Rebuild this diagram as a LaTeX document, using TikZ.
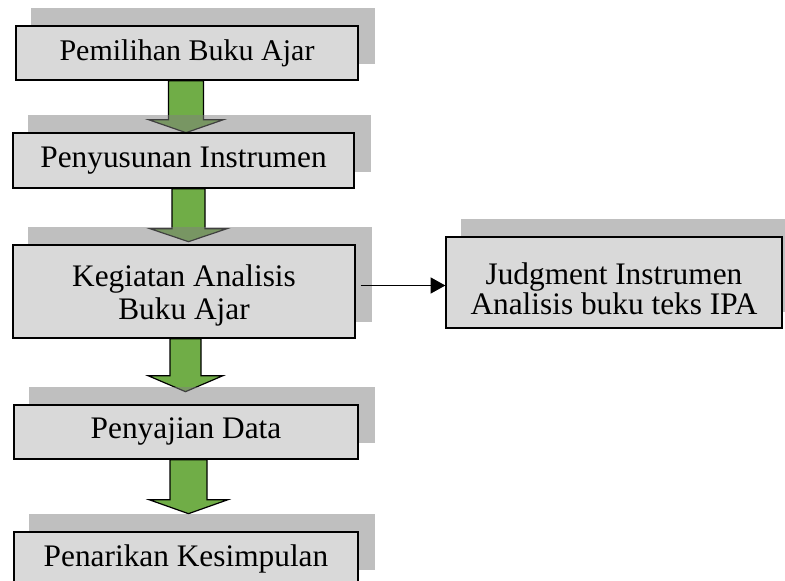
\documentclass[tikz,border=0pt]{standalone}
\usepackage{fontspec}
\setmainfont{Liberation Serif}
\usetikzlibrary{calc,arrows.meta}
\definecolor{boxfill}{HTML}{D9D9D9}
\definecolor{arrgreen}{HTML}{70AD47}
\pgfdeclarelayer{bg}
\pgfdeclarelayer{mid}
\pgfsetlayers{bg,mid,main}
\tikzset{
  stepbox/.style={draw=black, line width=1pt, fill=boxfill, rectangle, inner sep=0pt,
    align=center, font=\fontsize{23.5}{24}\selectfont},
  boxtext/.style={align=center, inner sep=0pt},
  shadowfill/.style={fill=black!50, fill opacity=0.5},
  greenarrow/.style={draw=black, line width=0.9pt, fill=arrgreen, line join=miter},
  linkarrow/.style={draw=black, line width=0.8pt, -{Triangle[length=11pt,width=12pt]}}
}
\begin{document}
\begin{tikzpicture}[x=0.75pt,y=-0.75pt]
\useasboundingbox (0,0) rectangle (785,581);
\clip (0,0) rectangle (785,581);
% boxes
\node[stepbox, minimum width=0.75*342pt, minimum height=0.75*54pt, font=\fontsize{22.5}{24}\selectfont] (b1) at (187,53) {Pemilihan Buku Ajar};
\node[stepbox, minimum width=0.75*341pt, minimum height=0.75*55pt] (b2) at (183.5,160.5) {Penyusunan Instrumen};
\node[stepbox, minimum width=0.75*342pt, minimum height=0.75*93pt,
  label={[name=b3t, boxtext, yshift=-3pt, font=\fontsize{23.5}{24.5}\selectfont]center:{Kegiatan Analisis\\Buku Ajar}}] (b3) at (184,291.5) {};
\node[stepbox, minimum width=0.75*344pt, minimum height=0.75*54pt] (b4) at (186,432) {Penyajian Data};
\node[stepbox, minimum width=0.75*344pt, minimum height=0.75*54pt] (b5) at (186,559) {Penarikan Kesimpulan};
\node[stepbox, minimum width=0.75*336pt, minimum height=0.75*91pt,
  label={[name=jdt, boxtext, yshift=-4.5pt, font=\fontsize{23.5}{22.5}\selectfont]center:{Judgment Instrumen\\Analisis buku teks IPA}}] (jd) at (614,282.5) {};
% shadows
\begin{pgfonlayer}{mid}
\foreach \n in {b1,b2,b3,b4,b5,jd}{
  \fill[shadowfill] ($(\n.south west)+(16,-17)$) rectangle ($(\n.north east)+(16,-17)$);
}
\end{pgfonlayer}
% green arrows
\begin{pgfonlayer}{bg}
\draw[greenarrow] ($(b1.south)+(-18.5,0)$) -- ++(0,39) -- ++(-20,0) -- ++(37.5,13) -- ++(37.5,-13) -- ++(-20,0) -- ++(0,-39) -- cycle;
\draw[greenarrow] ($(b2.south)+(-11.5,0)$) -- ++(0,40) -- ++(-22,0) -- ++(38.5,13) -- ++(38.5,-13) -- ++(-22,0) -- ++(0,-40) -- cycle;
\draw[greenarrow] ($(b3.south)+(-14,0)$) -- ++(0,37) -- ++(-22,0) -- ++(37.5,16) -- ++(37.5,-16) -- ++(-22,0) -- ++(0,-37) -- cycle;
\draw[greenarrow] ($(b4.south)+(-16,0)$) -- ++(0,40) -- ++(-21,0) -- ++(39.5,14) -- ++(39.5,-14) -- ++(-21,0) -- ++(0,-40) -- cycle;
\end{pgfonlayer}
% link arrow
\coordinate (lk) at ($(b3.east)+(5,-6)$);
\draw[linkarrow] (lk) -- (jd.west |- lk);
\end{tikzpicture}
\end{document}
